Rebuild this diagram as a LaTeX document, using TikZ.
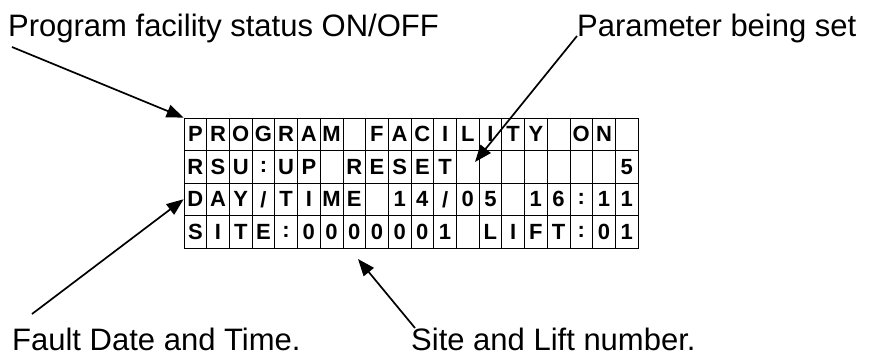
\documentclass[tikz,border=0pt]{standalone}
\usepackage{fontspec}
\setmainfont{Liberation Sans}
\usetikzlibrary{arrows.meta}

\begin{document}
\begin{tikzpicture}[x=1pt, y=-1pt,
cell/.style={draw, line width=0.8pt, minimum width=22.7pt, minimum height=32.5pt, inner sep=0pt, font=\fontsize{22}{22}\selectfont\bfseries},
callout/.style={font=\fontsize{31}{31}\selectfont, inner sep=0pt, anchor=base west},
pointer/.style={line width=1.7pt, -{Triangle[length=17pt, width=13pt]}}]
\useasboundingbox (0,0) rectangle (880,356);
\foreach \row [count=\r] in {{P,R,O,G,R,A,M,{},F,A,C,I,L,I,T,Y,{},O,N,{}},
  {R,S,U,:,U,P,{},R,E,S,E,T,{},{},{},{},{},{},{},5},
  {D,A,Y,{/},T,I,M,E,{},1,4,{/},0,5,{},1,6,:,1,1},
  {S,I,T,E,:,0,0,0,0,0,0,1,{},L,I,F,T,:,0,1}}
  \foreach \ch [count=\i] in \row
    \node[cell] (c-\r-\i) at (184+22.7*\i-11.35, 118+32.5*\r-16.25) {\ch};
\node[callout] (prog) at (8,36) {Program facility status ON/OFF};
\node[callout] (param) at (577,36) {Parameter being set};
\node[callout] (fault) at (12,350) {Fault Date and Time.};
\node[callout] (site) at (411,350) {Site and Lift number.};
\coordinate (prog-end) at (12,47);
\coordinate (param-tip) at (475,162);
\coordinate (fault-end) at (32,314);
\coordinate (site-end) at (415,328);
\coordinate (site-tip) at (358,259);
\draw[pointer] (prog-end) -- (c-1-1.north west);
\draw[pointer] (param.base west) -- (param-tip);
\draw[pointer] (fault-end) -- (c-3-1.west);
\draw[pointer] (site-end) -- (site-tip);
\end{tikzpicture}
\end{document}
